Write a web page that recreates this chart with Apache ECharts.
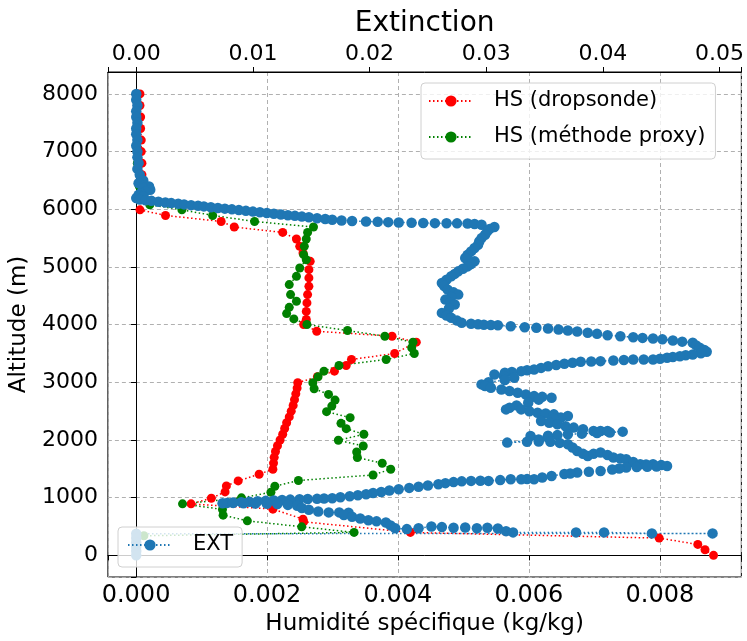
<!DOCTYPE html>
<html>
<head>
<meta charset="utf-8">
<script src="https://cdn.jsdelivr.net/npm/echarts@6/dist/echarts.min.js"></script>
<style>
    html, body { margin: 0; padding: 0; background: #fff; }
    #chart { width: 747px; height: 641px; }
</style>
</head>
<body>
<div id="chart"></div>
<script>
// [humidité spécifique (kg/kg), altitude (m)]
var dropsonde = [
    [0.00006, 8000], [0.00006, 7800], [0.00007, 7600], [0.00007, 7400], [0.00008, 7200],
    [0.00008, 7000], [0.00009, 6800], [0.00009, 6600], [0.0001, 6400], [0.00008, 6200],
    [0.00006, 5990], [0.00045, 5893], [0.0013, 5789], [0.0015, 5692], [0.00224, 5599],
    [0.00245, 5484], [0.0025, 5357], [0.00255, 5242], [0.00266, 5097], [0.00264, 4953],
    [0.00264, 4810], [0.00264, 4664], [0.00262, 4521], [0.00261, 4377], [0.0026, 4230],
    [0.0026, 4090], [0.00256, 4002], [0.00276, 3886], [0.00391, 3799], [0.00428, 3696],
    [0.00395, 3500], [0.00329, 3396], [0.00321, 3292], [0.00303, 3194], [0.00277, 3097],
    [0.00247, 2993], [0.00246, 2900], [0.00244, 2800], [0.00242, 2700], [0.0024, 2600],
    [0.00237, 2500], [0.00234, 2400], [0.0023, 2300], [0.00227, 2200], [0.00224, 2100],
    [0.0022, 2000], [0.00216, 1900], [0.00213, 1800], [0.00211, 1700], [0.0021, 1600],
    [0.00209, 1493], [0.00188, 1407], [0.00156, 1291], [0.00138, 1204], [0.00136, 1100],
    [0.00115, 991], [0.00084, 893], [0.00209, 801], [0.00255, 628], [0.00256, 582],
    [0.00419, 398], [0.00799, 299], [0.00858, 190], [0.00869, 97], [0.00882, 0]
];

var proxy = [
    [0.00001, 8000], [0.00001, 7600], [0.00002, 7200], [0.00002, 6800], [0.00005, 6400],
    [0.0001, 6200], [0.00021, 6078], [0.0007, 5991], [0.00117, 5893], [0.00181, 5789],
    [0.00271, 5692], [0.00262, 5599], [0.0026, 5484], [0.00257, 5357], [0.00256, 5213],
    [0.0026, 5126], [0.0025, 4983], [0.00245, 4838], [0.00234, 4694], [0.00236, 4521],
    [0.00245, 4405], [0.00234, 4300], [0.0023, 4192], [0.00241, 4100], [0.00261, 4002],
    [0.00323, 3898], [0.0038, 3799], [0.00423, 3696], [0.00421, 3599], [0.00425, 3500],
    [0.00382, 3396], [0.0031, 3292], [0.00287, 3194], [0.00278, 3097], [0.0027, 2993],
    [0.00272, 2889], [0.00294, 2791], [0.00304, 2692], [0.00299, 2588], [0.00291, 2491],
    [0.00327, 2388], [0.00313, 2289], [0.00321, 2197], [0.00348, 2099], [0.00309, 1995],
    [0.00347, 1896], [0.00337, 1792], [0.00338, 1696], [0.00376, 1597], [0.00389, 1493],
    [0.00362, 1394], [0.00248, 1298], [0.00212, 1199], [0.00206, 1095], [0.00161, 997],
    [0.00071, 893], [0.00132, 796], [0.00133, 697], [0.0017, 599], [0.00253, 495],
    [0.00333, 398], [0.00012, 340]
];

// [extinction, altitude (m)]
var extinction = [
    [0, 8000], [0, 7900], [0.0001, 7800], [0, 7700], [0, 7600], [0.0001, 7500], [0, 7400],
    [0, 7300], [0.0001, 7200], [0, 7100], [0.0001, 7000], [0.0001, 6900], [0.0002, 6800],
    [0.0001, 6700], [0.0003, 6600], [0.0006, 6500], [0.0002, 6450], [0.0007, 6420],
    [0.0011, 6395], [0.0006, 6370], [0.0012, 6340], [0.0008, 6310], [0.0004, 6280],
    [0.0002, 6250], [0.0006, 6220], [0, 6194], [0.0003, 6170],
    [0.0008, 6158], [0.0013, 6146], [0.0019, 6132], [0.0025, 6118], [0.003, 6107],
    [0.0036, 6095], [0.0041, 6085], [0.0047, 6072], [0.0053, 6060], [0.0058, 6050],
    [0.0064, 6036], [0.007, 6023], [0.0076, 6011], [0.0082, 5999], [0.0088, 5986],
    [0.0094, 5973], [0.01, 5960], [0.0106, 5948], [0.0112, 5936], [0.0118, 5923],
    [0.0124, 5910], [0.013, 5898], [0.0136, 5886], [0.0142, 5873], [0.0148, 5861],
    [0.0155, 5846], [0.0162, 5831], [0.0168, 5818], [0.0176, 5806], [0.0185, 5797],
    [0.0197, 5789], [0.0207, 5783], [0.0216, 5777], [0.0225, 5771], [0.0236, 5767],
    [0.0246, 5763], [0.0256, 5760], [0.0266, 5758], [0.0275, 5756], [0.0284, 5752],
    [0.029, 5744], [0.0296, 5732], [0.0307, 5692],
    [0.0303, 5660], [0.0301, 5620], [0.0299, 5559], [0.0296, 5500], [0.0294, 5440],
    [0.0293, 5386], [0.029, 5330], [0.0287, 5270], [0.0284, 5210], [0.0282, 5156],
    [0.029, 5097], [0.0287, 5050], [0.0284, 5010], [0.028, 4970], [0.0276, 4924],
    [0.0273, 4880], [0.027, 4838], [0.0266, 4780], [0.0262, 4723], [0.0264, 4670],
    [0.0267, 4607], [0.0272, 4560], [0.0276, 4521], [0.027, 4480], [0.0265, 4434],
    [0.0269, 4390], [0.0273, 4348], [0.0268, 4280], [0.0262, 4204], [0.0266, 4160],
    [0.027, 4118], [0.0275, 4070], [0.0279, 4031], [0.0287, 4014], [0.0293, 4005],
    [0.0298, 3998], [0.0304, 3994], [0.031, 3990], [0.0321, 3972], [0.0333, 3955],
    [0.0343, 3945], [0.0353, 3932], [0.0362, 3915], [0.037, 3898], [0.0378, 3880],
    [0.0387, 3858], [0.0395, 3840], [0.0404, 3817], [0.0415, 3800], [0.0426, 3782],
    [0.0434, 3770], [0.0443, 3760], [0.0451, 3745], [0.046, 3725], [0.0468, 3705],
    [0.0477, 3685], [0.048, 3640], [0.0483, 3599], [0.0487, 3560], [0.0489, 3529],
    [0.0484, 3505], [0.0477, 3483], [0.0471, 3468], [0.0466, 3453], [0.046, 3440],
    [0.0455, 3426], [0.0449, 3410], [0.0443, 3396], [0.0435, 3396], [0.0426, 3396],
    [0.0418, 3388], [0.0409, 3379], [0.0398, 3367], [0.039, 3362], [0.0381, 3356],
    [0.0374, 3340], [0.0367, 3322], [0.036, 3300], [0.0353, 3280], [0.0347, 3250],
    [0.0341, 3223], [0.0335, 3208], [0.033, 3194], [0.0322, 3180], [0.0316, 3166],
    [0.0307, 3137], [0.0315, 3110], [0.0324, 3080], [0.0316, 3040], [0.0302, 3000],
    [0.0296, 2964], [0.0299, 2935], [0.0304, 2907], [0.0313, 2877], [0.032, 2850],
    [0.0327, 2820], [0.0334, 2790], [0.0341, 2761], [0.0348, 2748], [0.0356, 2734],
    [0.0345, 2700], [0.0336, 2647], [0.0326, 2600], [0.032, 2560], [0.0317, 2531],
    [0.033, 2531], [0.0337, 2500], [0.0344, 2474], [0.0351, 2460], [0.0358, 2445],
    [0.037, 2415], [0.0364, 2390], [0.0358, 2370], [0.0347, 2329], [0.0354, 2300],
    [0.0361, 2272], [0.0368, 2240], [0.0375, 2215], [0.0383, 2185], [0.0392, 2156],
    [0.0398, 2156], [0.0404, 2156], [0.0417, 2145], [0.0406, 2130], [0.0395, 2120],
    [0.0382, 2110], [0.037, 2099], [0.0361, 2085], [0.0353, 2075], [0.0338, 2069],
    [0.0353, 2041], [0.0345, 2010], [0.0318, 1955], [0.0335, 1970], [0.0345, 1975],
    [0.0355, 1968], [0.0363, 1950], [0.037, 1926], [0.0374, 1870], [0.0378, 1810],
    [0.0383, 1760], [0.0387, 1723], [0.0392, 1760], [0.0398, 1782], [0.0404, 1740],
    [0.0409, 1696], [0.0415, 1680], [0.042, 1666], [0.0426, 1620], [0.0432, 1580],
    [0.0437, 1575], [0.0443, 1580], [0.045, 1565], [0.0455, 1550], [0.0446, 1540],
    [0.0438, 1535], [0.0429, 1530], [0.042, 1522], [0.0414, 1505], [0.0408, 1490],
    [0.0398, 1464], [0.0388, 1450], [0.0378, 1436], [0.0372, 1420], [0.0367, 1410],
    [0.0356, 1377], [0.0348, 1350], [0.0341, 1320], [0.0335, 1322], [0.033, 1320],
    [0.0321, 1320], [0.0312, 1305], [0.0302, 1291], [0.0295, 1293], [0.0287, 1291],
    [0.0279, 1283], [0.0272, 1270], [0.0265, 1252], [0.0259, 1234], [0.025, 1212],
    [0.0242, 1190], [0.0234, 1170], [0.0225, 1147], [0.0217, 1124], [0.021, 1100],
    [0.0203, 1080], [0.0197, 1061], [0.019, 1043], [0.0183, 1025], [0.0175, 1008],
    [0.0168, 991], [0.0161, 985], [0.0155, 980], [0.0147, 977], [0.014, 974],
    [0.0132, 967], [0.0125, 960], [0.0118, 952], [0.0111, 945], [0.0104, 937],
    [0.0097, 930], [0.009, 923], [0.0083, 917], [0.0078, 910], [0.0074, 905],
    [0.0083, 910], [0.0092, 905], [0.0102, 900], [0.0112, 895], [0.0121, 890],
    [0.013, 875], [0.0138, 860], [0.0142, 820], [0.0148, 790], [0.0156, 760],
    [0.0165, 745], [0.0174, 745], [0.0182, 740], [0.0178, 700], [0.0185, 670],
    [0.0192, 640], [0.0199, 610], [0.0206, 590], [0.0214, 571], [0.0218, 520],
    [0.0222, 470], [0.0232, 455], [0.0242, 470], [0.0253, 500], [0.0262, 490],
    [0.0272, 480], [0.0282, 484], [0.0292, 470], [0.0301, 480], [0.031, 467],
    [0.0317, 420], [0.0323, 398], [0.0377, 398], [0.0401, 398], [0.0442, 381],
    [0.0494, 381], [0, 375], [0, 300], [0, 225], [0, 150], [0, 75], [0, 0]
];

var FONT = 'DejaVu Sans';
var gridDash = {color: '#b0b0b0', width: 1, type: [4, 3]};
var dotted = [1.5, 2.5];

function onStep(v, step) {
    var r = v / step;
    return Math.abs(r - Math.round(r)) < 1e-6;
}

var chart = echarts.init(document.getElementById('chart'), null, {renderer: 'canvas'});

var legendText = {fontFamily: FONT, fontSize: 21, color: '#000', lineHeight: 24, padding: [0, 0, 0, 16]};

var option = {
    animation: false,
    backgroundColor: '#fff',
    textStyle: {fontFamily: FONT, color: '#000'},
    grid: {
        left: 107,
        right: 2,
        top: 72,
        bottom: 63,
        show: true,
        borderColor: '#000',
        borderWidth: 1,
        backgroundColor: 'transparent'
    },
    legend: [
        {
            data: ['HS (dropsonde)', 'HS (méthode proxy)'],
            orient: 'vertical',
            left: 421,
            top: 83,
            padding: [6, 10, 10, 7],
            itemGap: 12,
            itemWidth: 44,
            itemHeight: 14,
            backgroundColor: 'rgba(255,255,255,0.8)',
            borderColor: '#d0d0d0',
            borderWidth: 1,
            borderRadius: 4,
            textStyle: legendText
        },
        {
            data: ['EXT'],
            orient: 'vertical',
            left: 118,
            top: 527,
            padding: [6, 9, 10, 9],
            itemWidth: 44,
            itemHeight: 14,
            backgroundColor: 'rgba(255,255,255,0.8)',
            borderColor: '#d0d0d0',
            borderWidth: 1,
            borderRadius: 4,
            textStyle: legendText
        }
    ],
    xAxis: [
        {
            type: 'value',
            position: 'bottom',
            min: -0.00043,
            max: 0.009245,
            splitNumber: 5,
            name: 'Humidité spécifique (kg/kg)',
            nameLocation: 'middle',
            nameGap: 36,
            nameTextStyle: {fontFamily: FONT, fontSize: 23, color: '#000'},
            axisLine: {show: true, lineStyle: {color: '#000', width: 1}},
            axisTick: {show: true, length: 5, lineStyle: {color: '#000'}},
            axisLabel: {
                fontFamily: FONT, fontSize: 24, color: '#000', margin: 7,
                formatter: function (v) { return onStep(v, 0.002) ? v.toFixed(3) : ''; }
            },
            splitLine: {show: true, lineStyle: gridDash}
        },
        {
            type: 'value',
            position: 'top',
            min: -0.00243,
            max: 0.05187,
            splitNumber: 5,
            name: 'Extinction',
            nameLocation: 'middle',
            nameGap: 30,
            nameTextStyle: {fontFamily: FONT, fontSize: 28, color: '#000'},
            axisLine: {show: true, lineStyle: {color: '#000', width: 1}},
            axisTick: {show: true, length: 5, lineStyle: {color: '#000'}},
            axisLabel: {
                fontFamily: FONT, fontSize: 22, color: '#000', margin: 7,
                formatter: function (v) { return onStep(v, 0.01) ? v.toFixed(2) : ''; }
            },
            splitLine: {show: false}
        }
    ],
    yAxis: {
        type: 'value',
        min: -375,
        max: 8380,
        splitNumber: 8,
        name: 'Altitude (m)',
        nameLocation: 'middle',
        nameGap: 70,
        nameTextStyle: {fontFamily: FONT, fontSize: 23, color: '#000'},
        axisLine: {show: true, lineStyle: {color: '#000', width: 1}},
        axisTick: {show: true, length: 5, lineStyle: {color: '#000'}},
        axisLabel: {
            fontFamily: FONT, fontSize: 22, color: '#000', margin: 10,
            formatter: function (v) { return onStep(v, 1000) ? String(Math.round(v)) : ''; }
        },
        splitLine: {show: true, lineStyle: gridDash}
    },
    series: [
        {
            name: 'HS (dropsonde)',
            type: 'line',
            xAxisIndex: 0,
            data: dropsonde,
            symbol: 'circle',
            symbolSize: 9,
            showSymbol: true,
            color: '#ff0000',
            itemStyle: {color: '#ff0000'},
            lineStyle: {color: '#ff0000', width: 1.5, type: dotted}
        },
        {
            name: 'HS (méthode proxy)',
            type: 'line',
            xAxisIndex: 0,
            data: proxy,
            symbol: 'circle',
            symbolSize: 9,
            showSymbol: true,
            color: '#008000',
            itemStyle: {color: '#008000'},
            lineStyle: {color: '#008000', width: 1.5, type: dotted}
        },
        {
            name: 'EXT',
            type: 'line',
            xAxisIndex: 1,
            data: extinction,
            symbol: 'circle',
            symbolSize: 10.5,
            showSymbol: true,
            color: '#1f77b4',
            itemStyle: {color: '#1f77b4'},
            lineStyle: {color: '#1f77b4', width: 1.5, type: dotted}
        }
    ]
};

chart.setOption(option);
</script>
</body>
</html>
